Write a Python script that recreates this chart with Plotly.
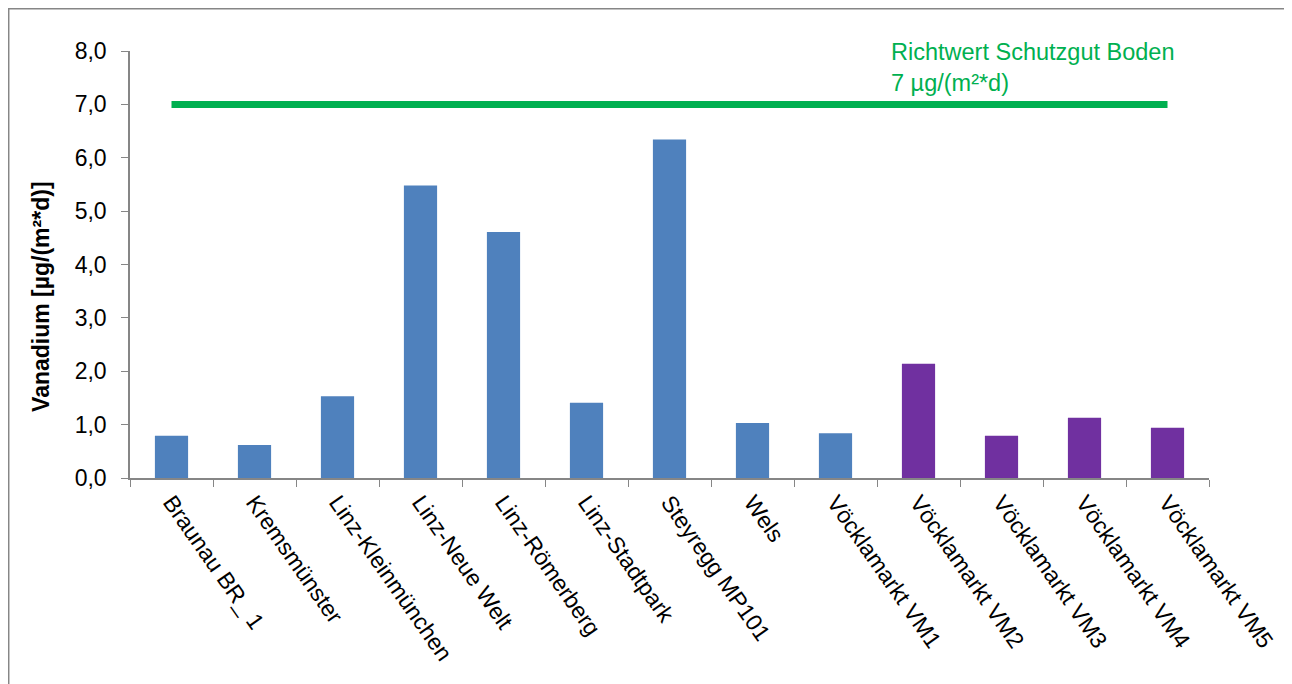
import plotly.graph_objects as go

stations_a = ["Braunau BR_ 1", "Kremsmünster", "Linz-Kleinmünchen", "Linz-Neue Welt",
              "Linz-Römerberg", "Linz-Stadtpark", "Steyregg MP101", "Wels", "Vöcklamarkt VM1"]
values_a = [0.79, 0.62, 1.53, 5.48, 4.61, 1.41, 6.34, 1.03, 0.84]

stations_b = ["Vöcklamarkt VM2", "Vöcklamarkt VM3", "Vöcklamarkt VM4", "Vöcklamarkt VM5"]
values_b = [2.14, 0.79, 1.13, 0.94]

limit_value = 7.0
limit_label = "Richtwert Schutzgut Boden<br>7 µg/(m²*d)"
y_title = "Vanadium [µg/(m²*d)]"

categories = stations_a + stations_b

FONT = "Liberation Sans, Arial, sans-serif"

fig = go.Figure()
fig.add_trace(go.Bar(x=stations_a, y=values_a, marker_color="#4F81BD",
                     marker_line_width=0, width=0.4, showlegend=False))
fig.add_trace(go.Bar(x=stations_b, y=values_b, marker_color="#7030A0",
                     marker_line_width=0, width=0.4, showlegend=False))
fig.add_trace(go.Scatter(x=categories, y=[limit_value] * len(categories), mode="lines",
                         line=dict(color="#00B050", width=7), showlegend=False))

fig.add_annotation(x=0.7035, y=0.9625, xref="paper", yref="paper", text=limit_label,
                   showarrow=False, xanchor="left", yanchor="middle", align="left",
                   font=dict(family=FONT, size=23.5, color="#00B050"))

# y-axis title (placed as in the original, slightly below the axis centre)
fig.add_annotation(x=-0.0825, y=0.424, xref="paper", yref="paper",
                   text="<b>" + y_title + "</b>", textangle=-90, showarrow=False,
                   xanchor="center", yanchor="middle",
                   font=dict(family=FONT, size=23, color="#000000"))

# outer chart border
fig.add_shape(type="rect", xref="paper", yref="paper", x0=-0.1124, x1=1.0741,
              y0=-0.6, y1=1.099, line=dict(color="#868686", width=1.5), layer="below")

fig.update_layout(
    width=1284, height=676,
    margin=dict(l=122, r=83, t=43, b=206),
    paper_bgcolor="white", plot_bgcolor="white",
    barmode="overlay",
    separators=",.",
    font=dict(family=FONT, size=23, color="#000000"),
)
fig.update_xaxes(categoryorder="array", categoryarray=categories,
                 tickangle=55, tickson="boundaries", ticks="outside", ticklen=7,
                 tickcolor="#868686", showline=True, linecolor="#868686", linewidth=1.5,
                 showgrid=False, tickfont=dict(size=23))
fig.update_yaxes(range=[0, 8], dtick=1, tickformat=".1f", ticks="outside", ticklen=7,
                 tickcolor="#868686", showline=True, linecolor="#868686", linewidth=1.5,
                 showgrid=False, zeroline=False, ticklabelstandoff=10,
                 tickfont=dict(size=23))

fig.write_html("out.html")
